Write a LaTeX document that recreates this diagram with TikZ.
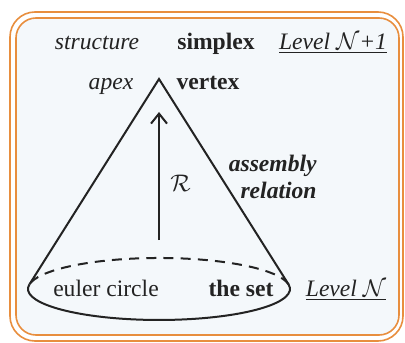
\documentclass[tikz,border=0pt]{standalone}
\usepackage{fontspec}
\setmainfont{Liberation Serif}
\usetikzlibrary{arrows.meta}
\definecolor{frameorange}{RGB}{232,142,62}
\definecolor{panelfill}{RGB}{244,248,251}
\definecolor{ink}{RGB}{35,35,35}
\begin{document}
\begin{tikzpicture}[x=0.5pt,y=0.5pt,
  lbl/.style={anchor=base,inner sep=0pt,text=ink,font=\fontsize{11.8}{14}\selectfont},
  coneline/.style={draw=ink,line width=1pt,line join=miter},
  framebox/.style={draw=frameorange,line width=0.8pt}]
\useasboundingbox (0,0) rectangle (405,342);
% frames
\draw[framebox,rounded corners=12.5pt] (10,1) rectangle (403,330);
\draw[framebox,fill=panelfill,rounded corners=10pt] (16,7) rectangle (399,324);
% cone geometry
\coordinate (apexpt) at (159,263);
\coordinate (ltan) at (29.4,57.55);
\coordinate (rtan) at (288.6,57.55);
\coordinate (arrbase) at (159,102);
\coordinate (arrtip) at (159,230);
\draw[coneline] (ltan) -- (apexpt) -- (rtan);
\draw[coneline,dash pattern=on 5pt off 3.6pt] (rtan) arc[start angle=8.4,end angle=171.6,x radius=65.5pt,y radius=15.5pt];
\draw[coneline] (ltan) arc[start angle=171.6,end angle=368.4,x radius=65.5pt,y radius=15.5pt];
\draw[coneline,-{Straight Barb[length=5pt,width=8pt,line width=1pt]}] (arrbase) -- (arrtip);
% labels
\node[lbl] (structure) at (97,292.5) {\itshape structure};
\node[lbl] (simplex) at (216,292.5) {\bfseries simplex};
\node[lbl] (levelup) at (333,292.5) {\underline{\itshape Level $\mathcal{N}$+1}};
\node[lbl] (apexlbl) at (111,252.7) {\itshape apex};
\node[lbl] (vertex) at (208,252.7) {\bfseries vertex};
\node[lbl,anchor=base west] (rel) at (170,150.3) {$\mathcal{R}$};
\node[lbl,anchor=base east] (assembly) at (317,170.3) {\bfseries\itshape assembly};
\node[lbl,anchor=base east] (relation) at (317,143) {\bfseries\itshape relation};
\node[lbl] (euler) at (106,46) {euler circle};
\node[lbl] (theset) at (241,46) {\bfseries the set};
\node[lbl] (leveln) at (346,46) {\underline{\itshape Level $\mathcal{N}$}};
\end{tikzpicture}
\end{document}
